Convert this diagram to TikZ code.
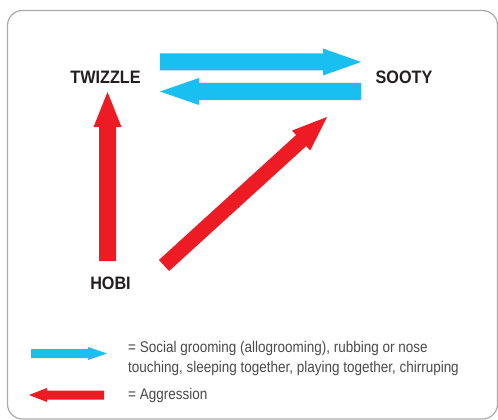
\documentclass[tikz,border=0pt]{standalone}
\usepackage{fontspec}
\usetikzlibrary{calc}
\newfontfamily\namefont[FakeStretch=0.9]{Liberation Sans}
\newfontfamily\legfont[FakeStretch=0.87]{Liberation Sans}
\definecolor{catblue}{HTML}{19BFEF}
\definecolor{catred}{HTML}{ED1C24}
\definecolor{ink}{HTML}{231F20}
\definecolor{legink}{HTML}{4A4A4A}
\definecolor{framegray}{HTML}{AAAAAA}
\newcommand\blockarrow[6]{%
  \coordinate (tmpH) at ($(#2)!#5!(#1)$);
  \fill[#6] ($(#1)!#3!90:(#2)$) -- ($(tmpH)!#3!-90:(#1)$) -- ($(tmpH)!#4!-90:(#1)$)
    -- (#2) -- ($(tmpH)!#4!90:(#1)$) -- ($(tmpH)!#3!90:(#1)$) -- ($(#1)!#3!-90:(#2)$) -- cycle;
}
\tikzset{
  catname/.style={font=\namefont\bfseries\fontsize{18}{20}\selectfont, text=ink, inner sep=0pt},
  legtext/.style={font=\legfont\fontsize{15.5}{20}\selectfont, text=legink, inner sep=0pt, anchor=west, align=left},
}
\begin{document}
\begin{tikzpicture}[x=1pt,y=-1pt]
\useasboundingbox (0,0) rectangle (498,420);
\begin{scope}
\clip (0,0) rectangle (498,420);
\draw[framegray, line width=1.2pt, rounded corners=15pt] (7.5,10.5) rectangle (497.5,419);
\end{scope}
% animal names
\node[catname] (twizzle) at (105.5,77.5) {TWIZZLE};
\node[catname] (sooty) at (404,77.5) {SOOTY};
\node[catname] (hobi) at (110.5,283) {HOBI};
% connector ends
\coordinate (b1s) at (160,62);
\coordinate (b1e) at (361,62);
\coordinate (b2s) at (361,91.5);
\coordinate (b2e) at (160,91.5);
\coordinate (r1s) at (107.5,261);
\coordinate (r1e) at (107.5,92);
\coordinate (r2s) at (164,265.5);
\coordinate (r2e) at (327,117);
\blockarrow{b1s}{b1e}{8.5pt}{13.5pt}{38pt}{catblue}
\blockarrow{b2s}{b2e}{8.5pt}{13.5pt}{39pt}{catblue}
\blockarrow{r1s}{r1e}{8.5pt}{14pt}{35pt}{catred}
\blockarrow{r2s}{r2e}{7.5pt}{13.5pt}{35pt}{catred}
% legend
\coordinate (l1s) at (31,353.5);
\coordinate (l1e) at (107,353.5);
\coordinate (l2s) at (104,395);
\coordinate (l2e) at (29,395);
\blockarrow{l1s}{l1e}{4.5pt}{6.5pt}{19pt}{catblue}
\blockarrow{l2s}{l2e}{4.5pt}{7pt}{18pt}{catred}
\node[legtext] (legA) at (128,358) {= Social grooming (allogrooming), rubbing or nose\\touching, sleeping together, playing together, chirruping};
\node[legtext] (legB) at (128,395) {= Aggression};
\end{tikzpicture}
\end{document}
